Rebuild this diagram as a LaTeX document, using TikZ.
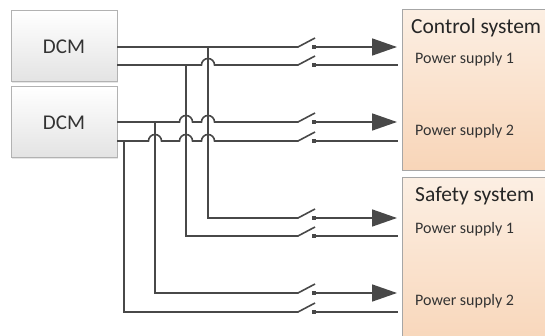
\documentclass[tikz,border=0pt]{standalone}
\usepackage{fontspec}
\setmainfont{Carlito}
\usetikzlibrary{arrows.meta,shadows}
\definecolor{wirecol}{HTML}{484848}
\definecolor{systop}{HTML}{FCEFE3}
\definecolor{sysbot}{HTML}{F8D5B8}
\tikzset{
  dcmbox/.style={draw=black!30, line width=1pt, top color=white, bottom color=black!11, drop shadow={opacity=.2,shadow xshift=1pt,shadow yshift=-1.5pt}, minimum width=106pt, minimum height=71pt, inner sep=0pt, font=\fontsize{21}{24}\selectfont, text=black!80},
  sysbox/.style={draw=black!35, line width=1pt, top color=systop, bottom color=sysbot, inner sep=0pt, anchor=north west, minimum width=160pt},
  title/.style={anchor=west, inner sep=0pt, font=\fontsize{21.5}{26}\selectfont, text=black!85},
  supply/.style={anchor=west, inner sep=0pt, font=\fontsize{16}{19}\selectfont, text=black!80},
  wire/.style={draw=wirecol, line width=1.6pt},
  contact/.style={fill=wirecol, minimum size=3.5pt, inner sep=0pt},
  bigarrow/.style={-{Triangle[length=25pt,width=17pt]}, shorten >=5pt}
}
\begin{document}
\begin{tikzpicture}[x=1pt,y=1pt]
\useasboundingbox (0,0) rectangle (545,-336);
\clip (0,0) rectangle (545,-336);
\node[dcmbox] (dcm1) at (64,-46.5) {DCM};
\node[dcmbox] (dcm2) at (64,-122.5) {DCM};
\node[sysbox, minimum height=161pt] (ctrl) at (402,-9) {};
\node[sysbox, minimum height=175pt] (safe) at (402,-177) {};
\node[title] (t1) at (411,-28) {Control system};
\node[supply] (p1) at (415,-59) {Power supply 1};
\node[supply] (p2) at (415,-131) {Power supply 2};
\node[title] (t2) at (415,-196) {Safety system};
\node[supply] (p3) at (415,-229) {Power supply 1};
\node[supply] (p4) at (415,-301) {Power supply 2};
% switch contacts
\node[contact] (c1) at (314,-47) {};
\node[contact] (c2) at (314,-65) {};
\node[contact] (c3) at (314,-122) {};
\node[contact] (c4) at (314,-141) {};
\node[contact] (c5) at (314,-218) {};
\node[contact] (c6) at (314,-236) {};
\node[contact] (c7) at (314,-293) {};
\node[contact] (c8) at (314,-312) {};
% blade roots
\coordinate (s1) at (298,-47);
\coordinate (s2) at (298,-65);
\coordinate (s3) at (298,-122);
\coordinate (s4) at (298,-141);
\coordinate (s5) at (298,-218);
\coordinate (s6) at (298,-236);
\coordinate (s7) at (298,-293);
\coordinate (s8) at (298,-312);
% outputs of the modules
\coordinate (o1) at (117,-47);
\coordinate (o2) at (117,-65);
\coordinate (o3) at (117,-122);
\coordinate (o4) at (117,-141);
% branch points
\coordinate (j1) at (208,-47);
\coordinate (j2) at (186,-65);
\coordinate (j3) at (155,-122);
\coordinate (j4) at (124,-141);
\coordinate (k1) at (208,-218);
\coordinate (k2) at (186,-236);
\coordinate (k3) at (155,-293);
\coordinate (k4) at (124,-312);
% ends on the system boxes
\coordinate (e1) at (402,-47);
\coordinate (e2) at (398,-65);
\coordinate (e3) at (402,-122);
\coordinate (e4) at (398,-141);
\coordinate (e5) at (402,-218);
\coordinate (e6) at (398,-236);
\coordinate (e7) at (402,-293);
\coordinate (e8) at (398,-312);
% horizontal runs, hopping the verticals
\draw[wire] (o1) -- (s1) -- ++(17,9);
\draw[wire] (o2) -- (201.5,-65) arc[start angle=180,end angle=0,radius=6.5] -- (s2) -- ++(17,9);
\draw[wire] (o3) -- (179.5,-122) arc[start angle=180,end angle=0,radius=6.5] -- (201.5,-122) arc[start angle=180,end angle=0,radius=6.5] -- (s3) -- ++(17,9);
\draw[wire] (o4) -- (148.5,-141) arc[start angle=180,end angle=0,radius=6.5] -- (179.5,-141) arc[start angle=180,end angle=0,radius=6.5] -- (201.5,-141) arc[start angle=180,end angle=0,radius=6.5] -- (s4) -- ++(17,9);
% branches down to the safety system
\draw[wire] (j1) -- (k1) -- (s5) -- ++(17,9);
\draw[wire] (j2) -- (k2) -- (s6) -- ++(17,9);
\draw[wire] (j3) -- (k3) -- (s7) -- ++(17,9);
\draw[wire] (j4) -- (k4) -- (s8) -- ++(17,9);
% from the contacts to the boxes
\draw[wire, bigarrow] (c1) -- (e1);
\draw[wire] (c2) -- (e2);
\draw[wire, bigarrow] (c3) -- (e3);
\draw[wire] (c4) -- (e4);
\draw[wire, bigarrow] (c5) -- (e5);
\draw[wire] (c6) -- (e6);
\draw[wire, bigarrow] (c7) -- (e7);
\draw[wire] (c8) -- (e8);
\end{tikzpicture}
\end{document}
